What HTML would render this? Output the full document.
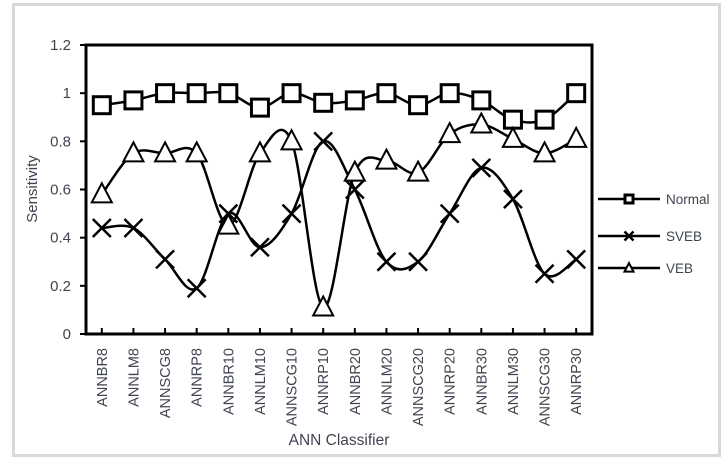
<!DOCTYPE html>
<html><head><meta charset="utf-8"><style>
body{margin:0;background:#fff;}
svg text{font-family:"Liberation Sans",sans-serif;fill:#3f4550;}
</style></head><body>
<svg width="725" height="460" viewBox="0 0 725 460">
<rect x="13.5" y="4.5" width="706" height="451" fill="#fff" stroke="#d9d9d9" stroke-width="3"/>
<g id="g"></g>
</svg>
<script>
const categories=["ANNBR8","ANNLM8","ANNSCG8","ANNRP8","ANNBR10","ANNLM10","ANNSCG10","ANNRP10","ANNBR20","ANNLM20","ANNSCG20","ANNRP20","ANNBR30","ANNLM30","ANNSCG30","ANNRP30"];
const normal=[0.95,0.97,1,1,1,0.94,1,0.96,0.97,1,0.95,1,0.97,0.89,0.89,1];
const sveb=[0.44,0.44,0.31,0.19,0.5,0.36,0.5,0.8,0.6,0.3,0.3,0.5,0.69,0.56,0.25,0.31];
const veb=[0.58,0.75,0.75,0.75,0.45,0.75,0.8,0.11,0.67,0.72,0.67,0.83,0.87,0.81,0.75,0.81];
const yTicks=[0,0.2,0.4,0.6,0.8,1,1.2];
const yTickLabels=["0","0.2","0.4","0.6","0.8","1","1.2"];
const L=86,R=592,T=45,B=334,yMax=1.2;
const ns="http://www.w3.org/2000/svg",g=document.getElementById('g');
const bw=(R-L)/categories.length;
const xs=i=>L+bw*(i+0.5);
const ys=v=>B-(v/yMax)*(B-T);
function mk(tag,attrs,parent){const e=document.createElementNS(ns,tag);for(const k in attrs)e.setAttribute(k,attrs[k]);(parent||g).appendChild(e);return e;}
yTicks.forEach((v,i)=>{
 const t=mk('line',{x1:L-6,x2:L,y1:ys(v),y2:ys(v),stroke:'#000','stroke-width':2});
 
 
 const tx=mk('text',{x:L-15,y:ys(v)+5,'text-anchor':'end','font-size':15});
 tx.textContent=yTickLabels[i];
 
 
});
categories.forEach((c,i)=>{
 const t=mk('line',{x1:xs(i),x2:xs(i),y1:B,y2:B-6,stroke:'#000','stroke-width':2});
 
 
 const tx=mk('text',{transform:`translate(${xs(i)+5},348) rotate(-90)`,'text-anchor':'end','font-size':14.5});
 tx.textContent=c;
 
 
});
const frame=mk('rect',{x:L,y:T,width:R-L,height:B-T,fill:'none',stroke:'#000','stroke-width':3});


function smooth(vals){
 const p=vals.map((v,i)=>[xs(i),ys(v)]);let d=`M${p[0][0]},${p[0][1]}`;
 for(let i=0;i<p.length-1;i++){const p0=p[i-1]||p[i],p1=p[i],p2=p[i+1],p3=p[i+2]||p2;
  const c1=[p1[0]+(p2[0]-p0[0])/6,p1[1]+(p2[1]-p0[1])/6],c2=[p2[0]-(p3[0]-p1[0])/6,p2[1]-(p3[1]-p1[1])/6];
  d+=` C${c1[0]},${c1[1]} ${c2[0]},${c2[1]} ${p2[0]},${p2[1]}`;}
 return d;}
function marker(type,x,y,s,parent){
 let e;
 if(type==='sq')e=mk('rect',{x:x-s,y:y-s,width:2*s,height:2*s,fill:'#fff',stroke:'#000','stroke-width':3},parent);
 else if(type==='x')e=mk('path',{d:`M${x-s},${y-s}L${x+s},${y+s}M${x-s},${y+s}L${x+s},${y-s}`,stroke:'#000','stroke-width':2.5,fill:'none'},parent);
 else e=mk('path',{d:`M${x},${y-s*1.1}L${x+s},${y+s*0.8}L${x-s},${y+s*0.8}Z`,fill:'#fff',stroke:'#000','stroke-width':2},parent);
 return e;}
const series=[["Normal",normal,'sq',199],["SVEB",sveb,'x',236],["VEB",veb,'tri',268]];
series.forEach(([name,vals,m,ly])=>{
 const sg=mk('g',{});
 
 
 const ln=mk('path',{d:smooth(vals),fill:'none',stroke:'#000','stroke-width':2.5},sg);
 
 
 vals.forEach((v,i)=>{const mm=marker(m,xs(i),ys(v),m==='sq'?8.5:m==='x'?9:10,sg);
  
  });
 const lg=mk('g',{});
 
 
 mk('line',{x1:598,x2:660,y1:ly,y2:ly,stroke:'#000','stroke-width':2.5},lg);
 marker(m,629,ly,m==='sq'?4:4.5,lg);
 const t=mk('text',{x:666,y:ly+5,'font-size':13.5},lg);t.textContent=name;
});
const yt=mk('text',{transform:'translate(37,189) rotate(-90)','text-anchor':'middle','font-size':15});
yt.textContent='Sensitivity';


const xt=mk('text',{x:339,y:445,'text-anchor':'middle','font-size':15.5});
xt.textContent='ANN Classifier';


</script>
</body></html>
